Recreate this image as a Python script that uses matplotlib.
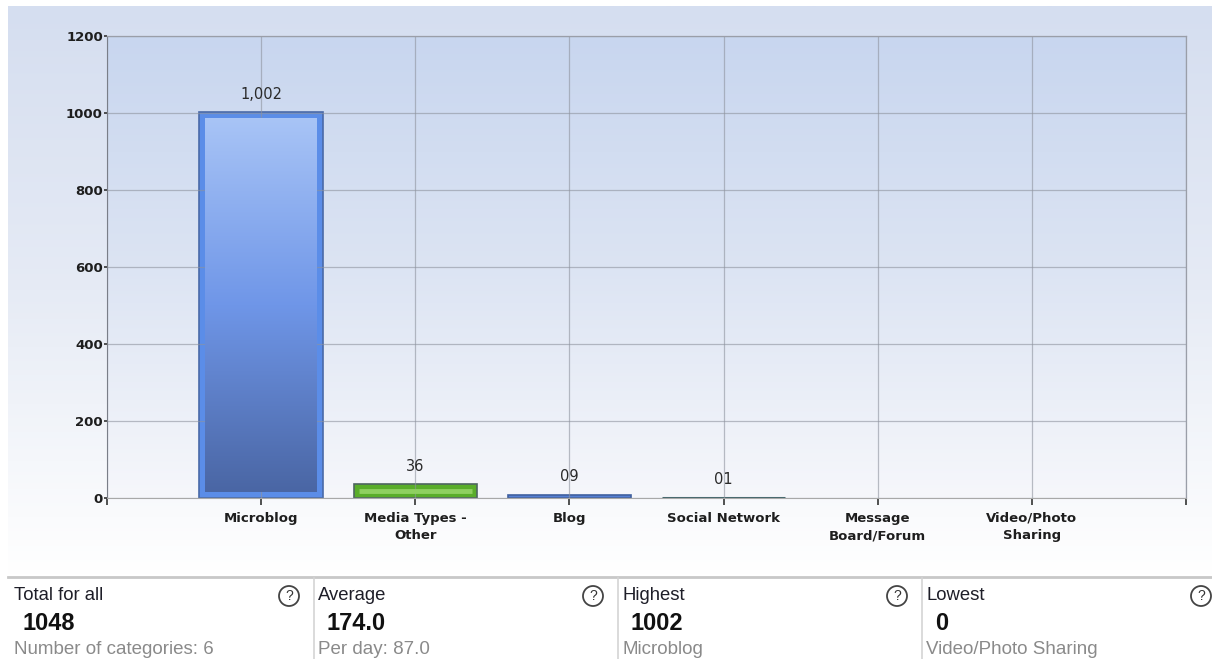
import numpy as np
import matplotlib
matplotlib.use('Agg')
import matplotlib.pyplot as plt
from matplotlib.colors import LinearSegmentedColormap
from matplotlib.patches import Circle, Rectangle

# ---- data ----
categories = ['Microblog', 'Media Types -\nOther', 'Blog', 'Social Network',
              'Message\nBoard/Forum', 'Video/Photo\nSharing']
values = [1002, 36, 9, 1, 0, 0]
value_labels = ['1,002', '36', '09', '01', '', '']
bar_styles = ['gradient', 'stripe', 'flat', 'flat', 'flat', 'flat']
bar_faces = ['#5b8de8', '#5aad2a', '#5580d4', '#44686c', '#5580d4', '#5580d4']
bar_edges = ['#4a6aa8', '#4f6660', '#40609f', '#3f6468', '#40609f', '#40609f']

y_ticks = [0, 200, 400, 600, 800, 1000, 1200]

panel_titles = ['Total for all', 'Average', 'Highest', 'Lowest']
panel_values = ['1048', '174.0', '1002', '0']
panel_notes = ['Number of categories: 6', 'Per day: 87.0', 'Microblog', 'Video/Photo Sharing']

W, H = 1212, 659
fig = plt.figure(figsize=(W / 100, H / 100), dpi=100)
fig.patch.set_facecolor('white')

# background layer in pixel coordinates
bg = fig.add_axes([0, 0, 1, 1])
bg.set_xlim(0, W)
bg.set_ylim(H, 0)
bg.axis('off')
grad = np.linspace(0, 1, 256).reshape(-1, 1)
bg_cmap = LinearSegmentedColormap.from_list('bg', ['#d5def0', '#e6ebf5', '#ffffff'])
bg.imshow(grad, cmap=bg_cmap, aspect='auto', extent=(8, W, 575, 6), zorder=0)

# stats panel
bg.add_patch(Rectangle((8, 576), W - 8, H - 576, facecolor='white', edgecolor='none', zorder=1))
bg.plot([8, W], [576.5, 576.5], color='#c8c8c8', lw=2, zorder=2)
panel_w = 304
for i in range(4):
    x0 = 8 + i * panel_w
    if i > 0:
        bg.plot([x0 + 2, x0 + 2], [578, H], color='#d4d4d4', lw=1.2, zorder=2)
    bg.text(x0 + 6, 596, panel_titles[i], fontsize=13.3, color='#1e1e28',
            family='Liberation Sans', va='center', ha='left', zorder=3)
    bg.text(x0 + 15, 623, panel_values[i], fontsize=17, color='#111111',
            family='Liberation Sans', weight='bold', va='center', ha='left', zorder=3)
    bg.text(x0 + 6, 650, panel_notes[i], fontsize=13.5, color='#8a8a8a',
            family='Liberation Sans', va='center', ha='left', zorder=3)
    cx = x0 + 281
    bg.add_patch(Circle((cx, 596), 10, facecolor='white', edgecolor='#444444', lw=1.3, zorder=3))
    bg.text(cx, 596.5, '?', fontsize=10, color='#333333', family='Liberation Sans',
            ha='center', va='center', zorder=4)

# main plot
left, right, top, bottom = 107, 1186, 36, 498
ax = fig.add_axes([left / W, 1 - bottom / H, (right - left) / W, (bottom - top) / H])
ax.set_facecolor('none')
x = np.arange(1, len(categories) + 1)
ax.set_xlim(0, len(categories) + 1)
ax.set_ylim(0, 1200)

plot_cmap = LinearSegmentedColormap.from_list('pl', ['#c8d6ef', '#dce4f3', '#f6f7fb'])
ax.imshow(grad, cmap=plot_cmap, aspect='auto', extent=(0, 1, 0, 1),
          transform=ax.transAxes, zorder=0)

px_x = (len(categories) + 1) / (right - left)
px_y = 1200 / (bottom - top)
bar_w = 0.8
# tiny non-zero bars get a thicker outline so they stay visible
edge_widths = [0 if v == 0 else (2.2 if v < 5 else 1.2) for v in values]
bars = ax.bar(x, values, width=bar_w, color=bar_faces, edgecolor=bar_edges,
              linewidth=edge_widths, zorder=2)
inner_cmap = LinearSegmentedColormap.from_list('in', ['#a8c4f6', '#6f96e8', '#4a66a4'])
for xi, v, st in zip(x, values, bar_styles):
    if st == 'gradient':
        ins_x, ins_y = 6 * px_x, 6 * px_y
        ax.imshow(grad, cmap=inner_cmap, aspect='auto', zorder=3,
                  extent=(xi - bar_w / 2 + ins_x, xi + bar_w / 2 - ins_x, ins_y, v - ins_y))
    elif st == 'stripe':
        ax.plot([xi - bar_w / 2 + 5 * px_x, xi + bar_w / 2 - 5 * px_x], [v / 2, v / 2],
                color='#8fd060', lw=3.5, solid_capstyle='butt', zorder=3)

for xi, v, lab in zip(x, values, value_labels):
    if lab:
        ax.annotate(lab, (xi, v), xytext=(0, 13), textcoords='offset points',
                    ha='center', va='center', fontsize=10.5, color='#2a2a2a', zorder=5)

ax.set_xticks(np.arange(0, len(categories) + 2))
ax.set_xticklabels([''] + categories + [''], fontsize=9.5, weight='bold', color='#1e1e1e',
                   linespacing=1.45)
ax.set_yticks(y_ticks)
ax.set_yticklabels([str(t) for t in y_ticks], fontsize=9.5, weight='bold', color='#1e1e1e')
ax.tick_params(axis='x', length=5, width=1.2, color='#333333', pad=5)
ax.tick_params(axis='y', length=2, width=1.2, color='#333333', pad=1)

ax.grid(True, color='#8e939e', lw=0.9, alpha=0.6, zorder=4)
ax.set_axisbelow(False)
for side in ['top', 'right']:
    ax.spines[side].set_color('#9a9ea8')
    ax.spines[side].set_linewidth(0.9)
ax.spines['left'].set_color('#7a7e88')
ax.spines['bottom'].set_color('#a8a8a8')
for s in ax.spines.values():
    s.set_zorder(6)

fig.savefig('out.png', dpi=100)
